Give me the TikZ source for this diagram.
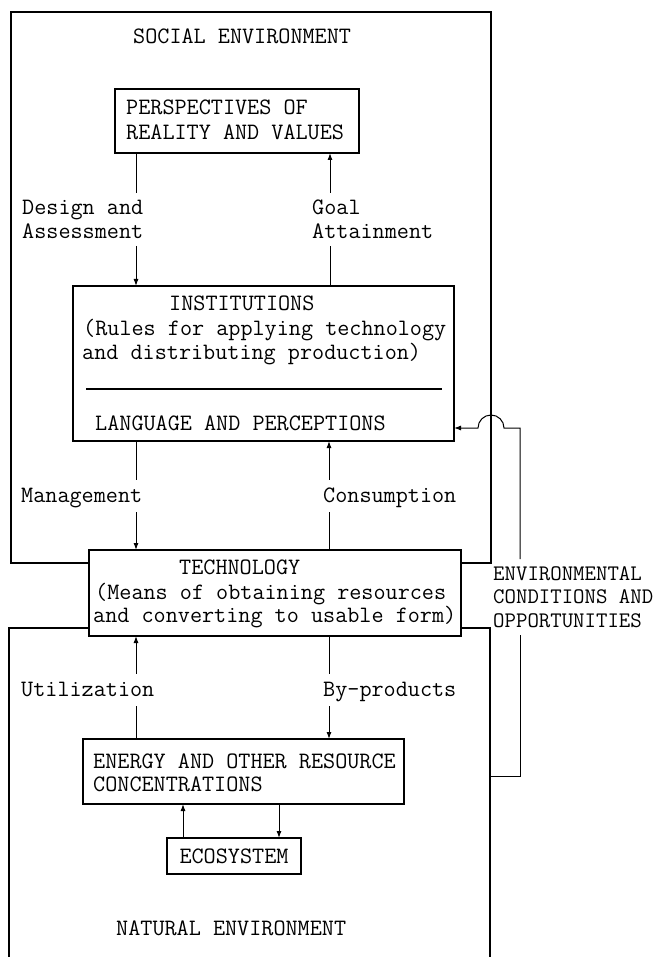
\documentclass[tikz,border=0pt]{standalone}
\usepackage{fontspec}
\usetikzlibrary{arrows.meta,calc}
\newcommand\twfont{\fontsize{23.5}{24}\selectfont\ttfamily}
\newcommand\twfontenv{\fontsize{22.2}{23.5}\selectfont\ttfamily}
\begin{document}
\begin{tikzpicture}[x=1pt,y=-1pt,
  tw/.style={font=\twfont, inner sep=0pt, anchor=base west},
  lbl/.style={font=\twfont, align=left, anchor=north west, inner xsep=0pt, inner ysep=7pt},
  slbl/.style={font=\twfont, anchor=base west, inner xsep=0pt, inner ysep=8pt, text height=14pt, text depth=2pt},
  box/.style={draw, line width=1.6pt, inner sep=0pt, outer sep=0pt},
  heavybox/.style={box, line width=2pt},
  arr/.style={line width=1pt, -{Latex[length=7pt,width=5pt]}},
  ln/.style={line width=1pt},
  frame/.style={line width=1.1pt}]
\useasboundingbox (0,0) rectangle (659,957);
\fill[white] (0,0) rectangle (659,957);

% boxes
\node[box, minimum width=244pt, minimum height=64pt] (P) at (237,121) {};
\node[box, minimum width=381pt, minimum height=155pt] (I) at (263.5,363.5) {};
\node[heavybox, minimum width=372pt, minimum height=86pt] (T) at (275,593) {};
\node[heavybox, minimum width=321pt, minimum height=65pt] (E) at (243.5,771.5) {};
\node[box, line width=1.8pt, minimum width=134pt, minimum height=36pt, font=\twfont] (C) at (234,856) {ECOSYSTEM};

% texts
\node[tw] (socT) at (133,44) {SOCIAL ENVIRONMENT};
\node[tw] (p1) at (126,115) {PERSPECTIVES OF};
\node[tw] (p2) at (126,140) {REALITY AND VALUES};
\node[lbl] (da) at (22,193) {Design and\\Assessment};
\node[lbl] (ga) at (312,193) {Goal\\Attainment};
\node[tw] (i1) at (169,310) {INSTITUTIONS};
\node[tw] (i2) at (83,335) {(Rules for applying technology};
\node[tw] (i3) at (82,359) {and distributing production)};
\draw[line width=1.2pt] (86,389) -- (442,389);
\node[tw] (i4) at (95,430) {LANGUAGE AND PERCEPTIONS};
\node[slbl] (mg) at (21,502) {Management};
\node[slbl] (cs) at (323,502) {Consumption};
\node[tw] (t1) at (179,574) {TECHNOLOGY};
\node[tw] (t2) at (95,599) {(Means of obtaining resources};
\node[tw] (t3) at (93,622) {and converting to usable form)};
\node[lbl, font=\twfontenv] (env) at (493,559) {ENVIRONMENTAL\\CONDITIONS AND\\OPPORTUNITIES};
\node[slbl] (ut) at (21,696) {Utilization};
\node[slbl] (bp) at (323,696) {By-products};
\node[tw] (e1) at (93,768) {ENERGY AND OTHER RESOURCE};
\node[tw] (e2) at (93,791) {CONCENTRATIONS};
\node[tw] (n1) at (116,935) {NATURAL ENVIRONMENT};

% connectors
\coordinate (xL) at (136,0);
\coordinate (xR) at (330,0);
\coordinate (xR2) at (329,0);
\draw[ln] (P.south -| xL) -- (da.north -| xL);
\draw[arr] (da.south -| xL) -- (I.north -| xL);
\draw[ln] (I.north -| xR) -- (ga.south -| xR);
\draw[arr] (ga.north -| xR) -- (P.south -| xR);
\draw[ln] (I.south -| xL) -- (mg.north -| xL);
\draw[arr] (mg.south -| xL) -- (T.north -| xL);
\draw[ln] (T.north -| xR2) -- (cs.south -| xR2);
\draw[arr] (cs.north -| xR2) -- (I.south -| xR2);
\draw[ln] (E.north -| xL) -- (ut.south -| xL);
\draw[arr] (ut.north -| xL) -- (T.south -| xL);
\draw[ln] (T.south -| xR2) -- (bp.north -| xR2);
\draw[arr] (bp.south -| xR2) -- (E.north -| xR2);
\coordinate (xe1) at (183,0);
\coordinate (xe2) at (279,0);
\draw[arr] (C.north -| xe1) -- (E.south -| xe1);
\draw[arr] (E.south -| xe2) -- (C.north -| xe2);

% environment frames
\coordinate (sY) at (0,563);
\coordinate (nY) at (0,628);
\draw[frame] (T.west |- sY) -- (11,563) -- (11,12) -- (491,12) -- (491,563) -- (T.east |- sY);
\draw[frame] (9,957) -- (9,628) -- (T.west |- nY);
\draw[frame] (T.east |- nY) -- (490,628) -- (490,957);

% feedback loop
\coordinate (lx) at (520,0);
\coordinate (lY) at (0,428);
\coordinate (natR) at (490,776);
\draw[ln] (natR) -- (natR -| lx) -- (env.south -| lx);
\draw[arr] (env.north -| lx) -- (lx |- lY) -- ++(-16,0) arc[start angle=0, end angle=180, radius=13pt] -- (I.east |- lY);
\end{tikzpicture}
\end{document}
